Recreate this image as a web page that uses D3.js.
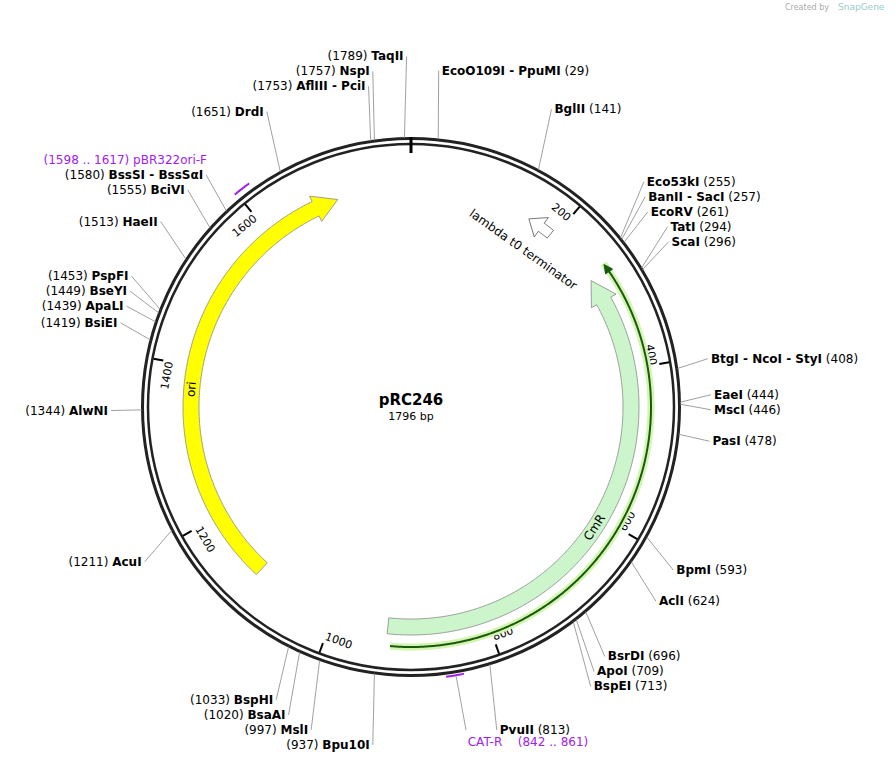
<!DOCTYPE html>
<html><head><meta charset="utf-8">
<script src="https://cdn.jsdelivr.net/npm/d3@7"></script>
<style>body{margin:0;background:#fff}text{font-family:"DejaVu Sans",Verdana,sans-serif}</style>
</head><body><svg id="c" width="895" height="760"></svg>
<script>
const plasmidName = "pRC246";
const plasmidLength = 1796;
const enzymeNames = ["TaqII","EcoO109I  -  PpuMI","BglII","Eco53kI","BanII  -  SacI","EcoRV","TatI","ScaI","BtgI  -  NcoI  -  StyI","EaeI","MscI","PasI","BpmI","AclI","BsrDI","ApoI","BspEI","PvuII","Bpu10I","MslI","BsaAI","BspHI","AcuI","AlwNI","BsiEI","ApaLI","BseYI","PspFI","HaeII","BciVI","BssSI  -  BssSαI","DrdI","AflIII  -  PciI","NspI"];
const enzymeSites = [1789,29,141,255,257,261,294,296,408,444,446,478,593,624,696,709,713,813,937,997,1020,1033,1211,1344,1419,1439,1449,1453,1513,1555,1580,1651,1753,1757];
const featureNames = ["ori","CmR","lambda t0 terminator"];
const featureStarts = [1111,928,194];
const featureEnds = [1699,274,160];
const featureDirs = [1,-1,-1];
const orfStart = 923, orfEnd = 266;
const primerNames = ["pBR322ori-F","CAT-R"];
const primerStarts = [1598,842];
const primerEnds = [1617,861];
const tickValues = [200,400,600,800,1000,1200,1400,1600];

const svg = d3.select("#c");
const cx = 411, cy = 407;
const ang = d3.scaleLinear().domain([0, plasmidLength]).range([0, 2*Math.PI]);
const pt = (r,p)=>[cx + r*Math.sin(ang(p)), cy - r*Math.cos(ang(p))];
const deg = p => ang(p)*180/Math.PI;

svg.append("text").attr("x",829).attr("y",10).attr("font-size",8).attr("fill","#aaa").attr("text-anchor","end").text("Created by");
svg.append("text").attr("x",838).attr("y",10).attr("font-size",9).attr("fill","#9cc").text("SnapGene");

function arcPts(r,a,b){const n=Math.max(2,Math.ceil(Math.abs(b-a)/2));return d3.range(n+1).map(i=>pt(r,a+(b-a)*i/n));}
function arrowPath(s,e,dir,rIn,rOut,headLen,extra){
  const rm=(rIn+rOut)/2;
  let a=s,b=e; if(dir>0&&b<a)b+=plasmidLength; if(dir<0&&b>a)b-=plasmidLength;
  const hp=headLen/rm/(2*Math.PI)*plasmidLength*dir;
  const base=b-hp;
  const pts=[...arcPts(rOut,a,base),pt(rOut+extra,base),pt(rm,b),pt(rIn-extra,base),...arcPts(rIn,base,a)];
  return d3.line()(pts)+"Z";
}
svg.append("circle").attr("cx",cx).attr("cy",cy).attr("r",268.5).attr("fill","none").attr("stroke","#222").attr("stroke-width",3);
svg.append("circle").attr("cx",cx).attr("cy",cy).attr("r",263).attr("fill","none").attr("stroke","#222").attr("stroke-width",2.5);
const z0=pt(270,0),z1=pt(254,0);
svg.append("line").attr("x1",z0[0]).attr("y1",z0[1]).attr("x2",z1[0]).attr("y2",z1[1]).attr("stroke","#000").attr("stroke-width",3);
tickValues.forEach(t=>{
  const a=pt(262,t),b=pt(252,t);
  svg.append("line").attr("x1",a[0]).attr("y1",a[1]).attr("x2",b[0]).attr("y2",b[1]).attr("stroke","#000").attr("stroke-width",2);
  const d=deg(t); const top=(d<90||d>270);
  const q=pt(245,t);
  svg.append("text").attr("transform",`translate(${q[0]},${q[1]}) rotate(${top?d:d-180})`)
    .attr("text-anchor",top?"end":"start").attr("dominant-baseline","middle").attr("font-size",11).attr("fill","#000").text(t);
});
svg.append("path").attr("d",d3.line()(arcPts(240,orfStart,orfEnd))).attr("fill","none").attr("stroke","#d4f5b0").attr("stroke-width",7);
svg.append("path").attr("d",d3.line()(arcPts(240,orfStart,orfEnd+8))).attr("fill","none").attr("stroke","#1a5a10").attr("stroke-width",2);
svg.append("path").attr("d",arrowPath(orfEnd+12,orfEnd,-1,237,243,10,2)).attr("fill","#1a5a10");
const fColors=["#ffff00","#ccf5cc","#ffffff"];
featureNames.forEach((n,i)=>{
  const small=i===2;
  svg.append("path").attr("d",arrowPath(featureStarts[i],featureEnds[i],featureDirs[i],small?217:212,small?227:228,small?15:24,small?7:6))
    .attr("fill",fColors[i]).attr("stroke",small?"#555":"#888").attr("stroke-width",0.8);
});
function curvedLabel(text,pos,r,size){
  const d=deg(pos); const top=(d<90||d>270); const q=pt(r,pos);
  svg.append("text").attr("transform",`translate(${q[0]},${q[1]}) rotate(${top?d:d-180})`).attr("text-anchor","middle")
   .attr("dominant-baseline","middle").attr("font-size",size).text(text);
}
curvedLabel("ori",1370,220,12);
curvedLabel("CmR",615,220,12);
curvedLabel("lambda t0 terminator",177,193,12);
const pcol="#a020f0";
primerNames.forEach((n,i)=>{
  svg.append("path").attr("d",d3.line()(arcPts(i===0?276:272,primerStarts[i],primerEnds[i]))).attr("fill","none").attr("stroke",pcol).attr("stroke-width",2);
});
const t=svg.append("text").attr("x",207).attr("y",160).attr("dominant-baseline","middle").attr("text-anchor","end").attr("font-size",12).attr("fill",pcol);
t.append("tspan").text("(1598 .. 1617)  ");t.append("tspan").text("pBR322ori-F");
const m=pt(273,851.5);
svg.append("line").attr("x1",m[0]+1).attr("y1",m[1]).attr("x2",466).attr("y2",730).attr("stroke","#888").attr("stroke-width",0.8);
svg.append("text").attr("x",485).attr("y",746).attr("text-anchor","middle").attr("font-size",12).attr("fill",pcol).text("CAT-R");
svg.append("text").attr("x",553).attr("y",746).attr("text-anchor","middle").attr("font-size",12).attr("fill",pcol).text("(842 .. 861)");

const rx=303, ry=338;
const labels=enzymeNames.map((n,i)=>{const a=ang(enzymeSites[i]);return{n,s:enzymeSites[i],right:Math.sin(a)>=0&&enzymeSites[i]<900,x:cx+rx*Math.sin(a),y:cy-ry*Math.cos(a)};});
[true,false].forEach(side=>{
  const L=labels.filter(l=>l.right===side);
  if(!side) L.push({pinned:true,y:160});
  L.sort((a,b)=>a.y-b.y);
  for(let it=0;it<300;it++){
    for(let k=1;k<L.length;k++){const g=L[k].y-L[k-1].y;if(g<15){
      if(L[k].pinned)L[k-1].y-=15-g; else if(L[k-1].pinned)L[k].y+=15-g;
      else{const d=(15-g)/2;L[k].y+=d;L[k-1].y-=d;}}}
    L.sort((a,b)=>a.y-b.y);
  }
});
labels.forEach(l=>{
  const c=pt(269,l.s);
  const ex=l.right?l.x-3:l.x+3;
  svg.append("line").attr("x1",c[0]).attr("y1",c[1]).attr("x2",ex).attr("y2",l.y).attr("stroke","#888").attr("stroke-width",0.8);
  const t=svg.append("text").attr("x",l.x).attr("y",l.y).attr("dominant-baseline","middle").attr("font-size",12).attr("text-anchor",l.right?"start":"end");
  if(l.right){t.append("tspan").attr("font-weight","bold").text(l.n);t.append("tspan").text("   ("+l.s+")");}
  else{t.append("tspan").text("("+l.s+")   ");t.append("tspan").attr("font-weight","bold").text(l.n);}
});
svg.append("text").attr("x",cx).attr("y",cy-2).attr("text-anchor","middle").attr("font-size",15).attr("font-weight","bold").text(plasmidName);
svg.append("text").attr("x",cx).attr("y",cy+13).attr("text-anchor","middle").attr("font-size",11).text(plasmidLength+" bp");
</script></body></html>
